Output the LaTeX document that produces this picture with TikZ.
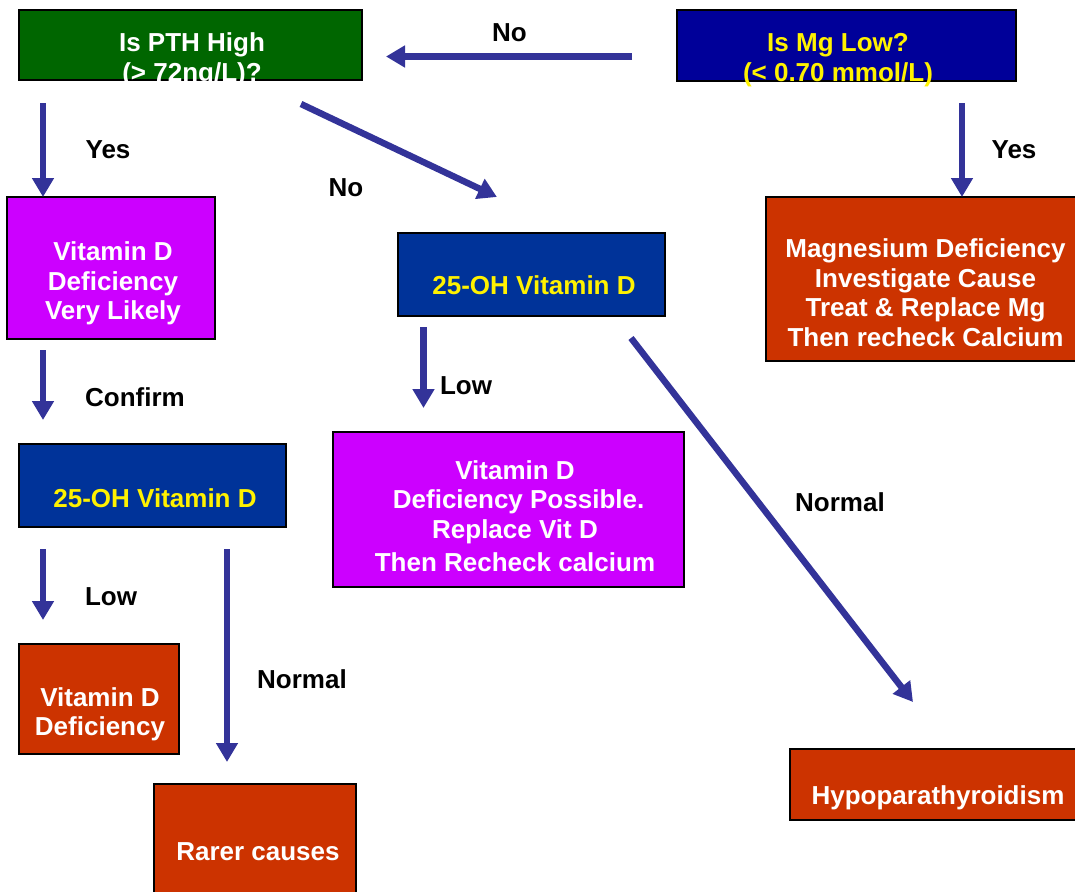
\documentclass[tikz,border=0pt]{standalone}
\usepackage{fontspec}
\setmainfont{Liberation Sans}
\usetikzlibrary{arrows.meta}

\definecolor{pthgreen}{RGB}{0,102,0}
\definecolor{mgnavy}{RGB}{0,0,153}
\definecolor{ohblue}{RGB}{0,51,153}
\definecolor{vitpink}{RGB}{204,0,255}
\definecolor{resred}{RGB}{204,51,0}
\definecolor{flowblue}{RGB}{51,51,153}

\begin{document}
\begin{tikzpicture}[x=1pt,y=-1pt,>={Triangle[width=21pt,length=19pt]},
    box/.style={draw=black, line width=2pt, inner sep=0pt},
    txt/.style={font=\fontsize{26}{29.5}\selectfont\bfseries, align=center, inner sep=0pt},
    flow/.style={->, draw=flowblue, fill=flowblue, line width=6.5pt}]

\useasboundingbox (0,0) rectangle (1075,891);

% questions
\node[box, fill=pthgreen, minimum width=343pt, minimum height=70pt] (pth) at (190.5,45) {};
\node[txt, white] (pthtext) at (192,60) {Is PTH High\\(> 72ng/L)?};
\node[box, fill=mgnavy, minimum width=339pt, minimum height=71pt] (mg) at (846.5,45.5) {};
\node[txt, yellow] (mgtext) at (838,60) {Is Mg Low?\\(< 0.70 mmol/L)};

% second row
\node[box, fill=vitpink, minimum width=208pt, minimum height=142pt] (likely) at (111,268) {};
\node[txt, white] (likelytext) at (113,283.5) {Vitamin D\\Deficiency\\Very Likely};
\node[box, fill=ohblue, minimum width=267pt, minimum height=83pt] (ohmid) at (531.5,274.5) {};
\node[txt, yellow] (ohmidtext) at (534,285) {25-OH Vitamin D};
\node[box, fill=resred, minimum width=314pt, minimum height=164pt] (mgdef) at (923,279) {};
\node[txt, white] (mgdeftext) at (925.5,292.5) {Magnesium Deficiency\\Investigate Cause\\Treat \& Replace Mg\\Then recheck Calcium};

% third row
\node[box, fill=ohblue, minimum width=267pt, minimum height=83pt] (ohleft) at (152.5,485.5) {};
\node[txt, yellow] (ohlefttext) at (155,498) {25-OH Vitamin D};
\node[box, fill=vitpink, minimum width=351pt, minimum height=155pt] (possible) at (508.5,509.5) {};
\node[txt, white] (possibletext) at (515,516) {Vitamin D\\ \ Deficiency Possible.\\Replace Vit D\\[4pt]Then Recheck calcium};

% results
\node[box, fill=resred, minimum width=160pt, minimum height=110pt] (vitdef) at (99,699) {};
\node[txt, white] (vitdeftext) at (100,714.5) {Vitamin D\\Deficiency};
\node[box, fill=resred, minimum width=202pt, minimum height=116pt] (rarer) at (255,842) {};
\node[txt, white] (rarertext) at (258,852) {Rarer causes};
\node[box, fill=resred, minimum width=290pt, minimum height=71pt] (hypo) at (935,784.5) {};
\node[txt, white] (hypotext) at (938,798) {Hypoparathyroidism};

% arrow ends
\coordinate (mgno-s) at (632,56.5);
\coordinate (mgno-e) at (386,56.5);
\coordinate (pthyes-s) at (43,103);
\coordinate (pthyes-e) at (43,197);
\coordinate (pthno-s) at (301,104);
\coordinate (pthno-e) at (497,197);
\coordinate (mgyes-s) at (962,103);
\coordinate (mgyes-e) at (962,197);
\coordinate (confirm-s) at (43,350);
\coordinate (confirm-e) at (43,420);
\coordinate (midlow-s) at (423.5,327);
\coordinate (midlow-e) at (423.5,408);
\coordinate (midnorm-s) at (631,338);
\coordinate (midnorm-e) at (913,702);
\coordinate (leftlow-s) at (43,549);
\coordinate (leftlow-e) at (43,620);
\coordinate (leftnorm-s) at (227,549);
\coordinate (leftnorm-e) at (227,762);

\draw[flow] (mgno-s) -- (mgno-e);
\draw[flow] (pthyes-s) -- (pthyes-e);
\draw[flow] (pthno-s) -- (pthno-e);
\draw[flow] (mgyes-s) -- (mgyes-e);
\draw[flow] (confirm-s) -- (confirm-e);
\draw[flow] (midlow-s) -- (midlow-e);
\draw[flow] (midnorm-s) -- (midnorm-e);
\draw[flow] (leftlow-s) -- (leftlow-e);
\draw[flow] (leftnorm-s) -- (leftnorm-e);

% arrow labels
\node[txt] (mgnolabel) at (509.5,33) {No};
\node[txt] (pthyeslabel) at (108,150) {Yes};
\node[txt] (pthnolabel) at (346,188) {No};
\node[txt] (mgyeslabel) at (1014,150) {Yes};
\node[txt] (confirmlabel) at (135,397) {Confirm};
\node[txt] (midlowlabel) at (466,386) {Low};
\node[txt] (midnormlabel) at (840,502) {Normal};
\node[txt] (leftlowlabel) at (111,597) {Low};
\node[txt] (leftnormlabel) at (302,679) {Normal};

\end{tikzpicture}
\end{document}
